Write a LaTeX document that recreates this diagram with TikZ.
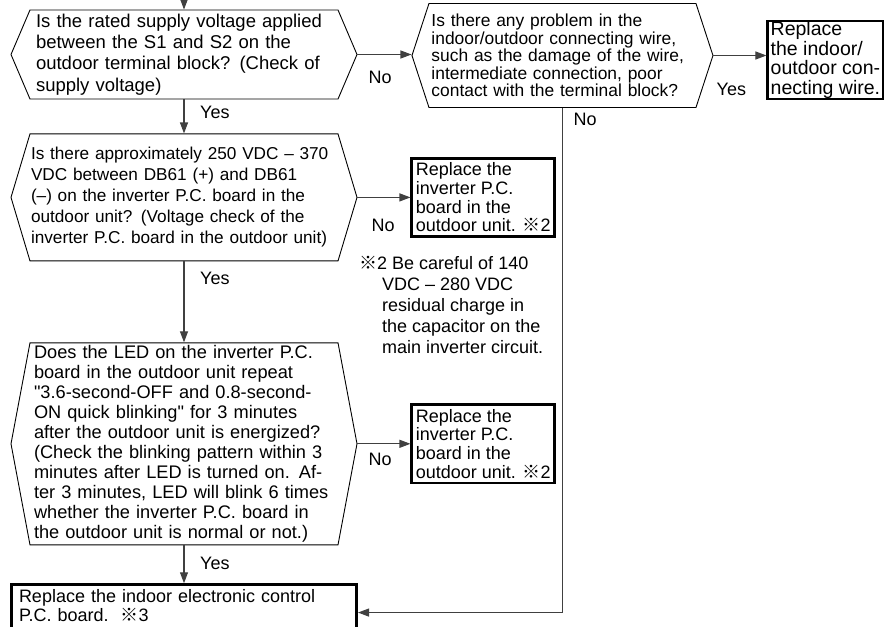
\documentclass[tikz,border=0pt]{standalone}
\usepackage{fontspec}
\setmainfont{Liberation Sans}
\newfontfamily\cjk{Noto Sans CJK JP}
\usetikzlibrary{positioning,arrows.meta,shapes.symbols}
\newcommand\fsz[2]{\fontsize{#1}{#2}\selectfont}
\newcommand\kome{{\cjk ※}}

\begin{document}
\begin{tikzpicture}[
  x=1pt, y=-1pt,
  >={Triangle[length=11pt, width=8pt]},
  question/.style={draw, signal, signal to=east and west, line width=.9pt,
                   align=left, inner sep=0pt},
  action/.style={draw, line width=2.6pt, align=left, inner xsep=4pt, inner ysep=1pt},
  lbl/.style={inner sep=0pt, font=\fsz{18}{20}},
  link/.style={->, draw=black!75, line width=1.1pt},
]
  \useasboundingbox (0,0) rectangle (885,626);

  % Checks
  \node[question, minimum width=346pt, minimum height=89pt, signal pointer angle=133.8,
        text width=296pt, font={\fsz{18.5}{21.3}}] (q1) at (184,54.5)
    {Is the rated supply voltage applied\\between the S1 and S2 on the\\outdoor terminal block? (Check of\\supply voltage)};
  \node[question, right=54pt of q1, yshift=-1pt, minimum width=301pt, minimum height=104pt, signal pointer angle=143.8,
        text width=262pt, font={\fsz{17.4}{17.4}}] (q2)
    {Is there any problem in the\\indoor/outdoor connecting wire,\\such as the damage of the wire,\\intermediate connection, poor\\contact with the terminal block?};
  \node[question, below=34pt of q1, minimum width=346pt, minimum height=127pt, signal pointer angle=146.7,
        text width=306pt, font={\fsz{17.2}{21}}] (q3)
    {Is there approximately 250 VDC – 370\\VDC between DB61 (+) and DB61\\(–) on the inverter P.C. board in the\\outdoor unit? (Voltage check of the\\inverter P.C. board in the outdoor unit)};
  \node[question, below=81pt of q3, minimum width=346pt, minimum height=202pt, signal pointer angle=158.7,
        text width=300pt, font={\fsz{18.2}{20}}] (q4)
    {Does the LED on the inverter P.C.\\board in the outdoor unit repeat\\\textquotedbl3.6-second-OFF and 0.8-second-\\ON quick blinking\textquotedbl{} for 3 minutes\\after the outdoor unit is energized?\\(Check the blinking pattern within 3\\minutes after LED is turned on. Af-\\ter 3 minutes, LED will blink 6 times\\whether the inverter P.C. board in\\the outdoor unit is normal or not.)};

  % Remedies
  \node[action, right=53pt of q2, yshift=-4.5pt, inner xsep=1.5pt, minimum width=115.4pt,
        minimum height=75pt, font={\fsz{19.5}{19.4}}] (wire)
    {Replace\\the indoor/\\outdoor con-\\necting wire.};
  \node[action, right=53pt of q3, minimum width=139.4pt, minimum height=78.4pt,
        font={\fsz{18}{18.6}}] (pcb1)
    {Replace the\\inverter P.C.\\board in the\\outdoor unit. \kome2};
  \node[action, right=53pt of q4, minimum width=139.4pt, minimum height=78.4pt,
        font={\fsz{18}{18.6}}] (pcb2)
    {Replace the\\inverter P.C.\\board in the\\outdoor unit. \kome2};
  \node[action, below=38pt of q4, minimum width=345.4pt, minimum height=56pt, text width=330pt,
        font={\fsz{18}{19}}] (ctrl)
    {Replace the indoor electronic control\\P.C. board.\ \ \kome3\vspace*{13pt}};

  % Caution
  \node[align=left, inner sep=0pt, anchor=north west, font={\fsz{18}{21}}] (caution) at (359,256)
    {\kome2 Be careful of 140\\\hspace*{23pt}VDC – 280 VDC\\\hspace*{23pt}residual charge in\\\hspace*{23pt}the capacitor on the\\\hspace*{23pt}main inverter circuit.};

  % Answers
  \node[lbl, below right=16pt and 11pt of q1.east] (no1) {No};
  \node[lbl, below right=27pt and 3pt of q2.east] (yes1) {Yes};
  \node[lbl, below right=4.5pt and 11pt of q2.south] (no2) {No};
  \node[lbl, below right=6.5pt and 16pt of q1.south] (yes2) {Yes};
  \node[lbl, below right=22pt and 14pt of q3.east] (no3) {No};
  \node[lbl, below right=10.5pt and 16pt of q3.south] (yes3) {Yes};
  \node[lbl, below right=9.5pt and 11pt of q4.east] (no4) {No};
  \node[lbl, below right=11.5pt and 16pt of q4.south] (yes4) {Yes};

  % Flow
  \coordinate[above=10pt of q1.north] (entry);
  \draw[link] (entry) -- (q1.north);
  \draw[link] (q1.east) -- (q1.east -| q2.west);
  \draw[link] (q2.east) -- (q2.east -| wire.west);
  \draw[link] (q1.south) -- (q3.north);
  \draw[link] (q3.east) -- (q3.east -| pcb1.west);
  \draw[link] (q3.south) -- (q4.north);
  \draw[link] (q4.east) -- (q4.east -| pcb2.west);
  \draw[link] (q4.south) -- (ctrl.north);
  \draw[link] (q2.south) |- (ctrl.east);
\end{tikzpicture}
\end{document}
